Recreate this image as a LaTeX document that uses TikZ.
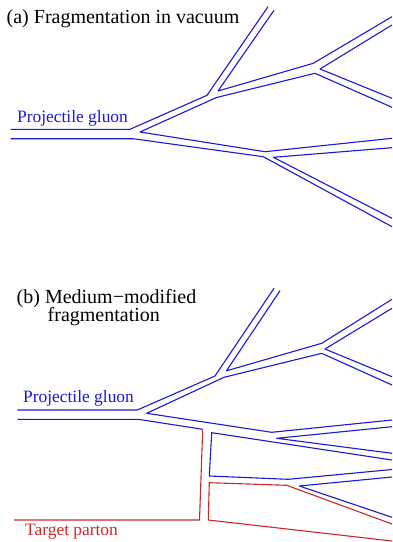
\documentclass[tikz,border=0pt]{standalone}
\usepackage{fontspec}
\setmainfont{Liberation Serif}
\definecolor{gblue}{RGB}{25,25,215}
\definecolor{tred}{RGB}{205,40,40}
\tikzset{
  bline/.style={draw=gblue, line width=1.1pt, line join=round},
  rline/.style={draw=tred, line width=1.1pt, line join=round},
  lab/.style={anchor=base west, inner sep=0pt, font=\fontsize{17.4}{20}\selectfont},
  ttl/.style={anchor=base west, inner sep=0pt, font=\fontsize{20}{22}\selectfont},
}
\begin{document}
\begin{tikzpicture}[x=1pt,y=-1pt]
\useasboundingbox (0,0) rectangle (392,542);
\clip (0,0) rectangle (392,542);
% ---------- panel (a) ----------
\coordinate (a1) at (10.7,129.3); \coordinate (a2) at (130,129.3);
\coordinate (a3) at (207,95.3);   \coordinate (a4) at (268,6.7);
\coordinate (a5) at (274,10.3);   \coordinate (a6) at (218,91);
\coordinate (a7) at (313.3,63.3); \coordinate (a8) at (392,16.7);
\coordinate (a9) at (392,25);     \coordinate (a10) at (320,69);
\coordinate (a11) at (392,98.3);
\coordinate (a12) at (392,138.3); \coordinate (a13) at (265,151.7);
\coordinate (a14) at (140,132);   \coordinate (a15) at (216.5,97.5);
\coordinate (a16) at (315,73.3);  \coordinate (a17) at (392,107.3);
\coordinate (a18) at (10.7,138.7);\coordinate (a19) at (133,138.7);
\coordinate (a20) at (263.3,156.7);\coordinate (a21) at (392,226.7);
\coordinate (a22) at (392,147.7); \coordinate (a23) at (273.3,157.3);
\coordinate (a24) at (392,218.3);

\draw[bline] (a1) -- (a2) -- (a3) -- (a4);
\draw[bline] (a5) -- (a6) -- (a7) -- (a8);
\draw[bline] (a9) -- (a10) -- (a11);
\draw[bline] (a12) -- (a13) -- (a14) -- (a15) -- (a16) -- (a17);
\draw[bline] (a18) -- (a19) -- (a20) -- (a21);
\draw[bline] (a22) -- (a23) -- (a24);

\node[ttl] (ta) at (6.5,23.3) {(a) Fragmentation in vacuum};
\node[lab, text=gblue] (pa) at (17,122.5) {Projectile gluon};

% ---------- panel (b) ----------
\coordinate (b1) at (17.3,410);   \coordinate (b2) at (137.3,410);
\coordinate (b3) at (215,376);    \coordinate (b4) at (274,288.3);
\coordinate (b5) at (280,290.7);  \coordinate (b6) at (226.5,370.8);
\coordinate (b7) at (321.7,343.3);\coordinate (b8) at (392,299.3);
\coordinate (b9) at (392,308.3);  \coordinate (b10) at (325,349);
\coordinate (b11) at (392,376.7);
\coordinate (b12) at (392,420);   \coordinate (b13) at (271.7,432.3);
\coordinate (b14) at (146.7,413.3);\coordinate (b15) at (224,377.3);
\coordinate (b16) at (321.7,353.3);\coordinate (b17) at (392,385);
\coordinate (b18) at (392,426.7); \coordinate (b19) at (276.7,438.3);
\coordinate (b20) at (392,453.3);
\coordinate (b21) at (17.3,419.3);\coordinate (b22) at (138.3,419.3);
\coordinate (b23) at (202.7,429.3);
\coordinate (b24) at (392,460);   \coordinate (b25) at (211.7,432.7);
\coordinate (b26) at (209.3,476); \coordinate (b27) at (288.3,479.3);
\coordinate (b28) at (392,469.5);
\coordinate (b29) at (392,477);   \coordinate (b30) at (299.3,486);
\coordinate (b31) at (392,517.3);
\coordinate (r1) at (199.5,520);  \coordinate (r2) at (14,520);
\coordinate (r3) at (392,524);    \coordinate (r4) at (286.7,485.3);
\coordinate (r5) at (209.3,482.7);\coordinate (r6) at (208.3,520);
\coordinate (r7) at (392,541);

\draw[bline] (b1) -- (b2) -- (b3) -- (b4);
\draw[bline] (b5) -- (b6) -- (b7) -- (b8);
\draw[bline] (b9) -- (b10) -- (b11);
\draw[bline] (b12) -- (b13) -- (b14) -- (b15) -- (b16) -- (b17);
\draw[bline] (b18) -- (b19) -- (b20);
\draw[bline] (b21) -- (b22) -- (b23);
\draw[rline] (b23) -- (r1) -- (r2);
\draw[bline] (b24) -- (b25) -- (b26) -- (b27) -- (b28);
\draw[bline] (b29) -- (b30) -- (b31);
\draw[rline] (r3) -- (r4) -- (r5) -- (r6) -- (r7);

\node[ttl] (tb1) at (16.5,303.3) {(b) Medium−modified};
\node[ttl] (tb2) at (47.5,321.7) {fragmentation};
\node[lab, text=gblue] (pb) at (23,402) {Projectile gluon};
\node[lab, text=tred] (tp) at (25,535) {Target parton};
\end{tikzpicture}
\end{document}
